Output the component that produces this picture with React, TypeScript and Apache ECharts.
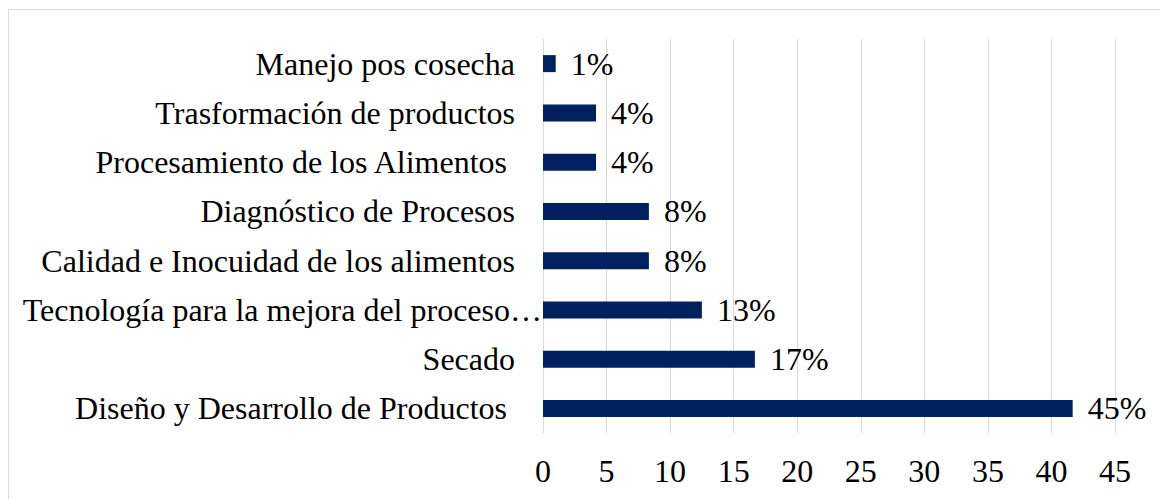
import React, { useEffect, useRef } from "react";
import * as echarts from "echarts";

const categories = [
  "Manejo pos cosecha",
  "Trasformación de productos",
  "Procesamiento de los Alimentos ",
  "Diagnóstico de Procesos",
  "Calidad e Inocuidad de los alimentos",
  "Tecnología para la mejora del proceso…",
  "Secado",
  "Diseño y Desarrollo de Productos ",
];
const values = [1, 4.17, 4.17, 8.33, 8.33, 12.5, 16.67, 41.67];
const percentLabels = ["1%", "4%", "4%", "8%", "8%", "13%", "17%", "45%"];
const xTicks = { min: 0, max: 45, interval: 5 };
const TRUNCATED = "Tecnología para la mejora del proceso…";

const FONT = "'Liberation Serif', 'Times New Roman', serif";

export default function App() {
  const ref = useRef<HTMLDivElement>(null);
  useEffect(() => {
    if (!ref.current) return;
    const chart = echarts.init(ref.current, null, { renderer: "svg" });
    chart.setOption({
      animation: false,
      backgroundColor: "#ffffff",
      grid: { left: 543, right: 45, top: 39, bottom: 66, containLabel: false },
      graphic: [
        {
          type: "rect",
          shape: { x: 8.5, y: 9.5, width: 1300, height: 700 },
          style: { fill: "none", stroke: "#d9d9d9", lineWidth: 1 },
          silent: true,
          z: -10,
        },
      ],
      xAxis: {
        type: "value",
        min: xTicks.min,
        max: xTicks.max,
        interval: xTicks.interval,
        axisLine: { show: false },
        axisTick: { show: false },
        splitLine: { show: true, lineStyle: { color: "#d9d9d9", width: 1 } },
        axisLabel: {
          fontFamily: FONT,
          fontSize: 32,
          color: "#000000",
          margin: 22,
        },
      },
      yAxis: {
        type: "category",
        inverse: true,
        data: categories,
        axisLine: { show: false },
        axisTick: { show: false },
        splitLine: { show: false },
        axisLabel: {
          fontFamily: FONT,
          fontSize: 32,
          color: "#000000",
          margin: 0,
          formatter: (v: string) =>
            v === TRUNCATED ? `${v}{s1| }` : `${v}{s2| }`,
          rich: {
            s1: { width: 1, fontSize: 32, fontFamily: FONT },
            s2: { width: 28, fontSize: 32, fontFamily: FONT },
          },
        },
      },
      series: [
        {
          type: "bar",
          data: values,
          barWidth: 17,
          itemStyle: { color: "#002060" },
          label: {
            show: true,
            position: "right",
            distance: 15,
            fontFamily: FONT,
            fontSize: 32,
            color: "#000000",
            formatter: (p: any) => percentLabels[p.dataIndex],
          },
        },
      ],
    });
    return () => chart.dispose();
  }, []);
  return (
    <div
      ref={ref}
      style={{ position: "absolute", left: 0, top: 0, width: 1160, height: 499 }}
    />
  );
}
